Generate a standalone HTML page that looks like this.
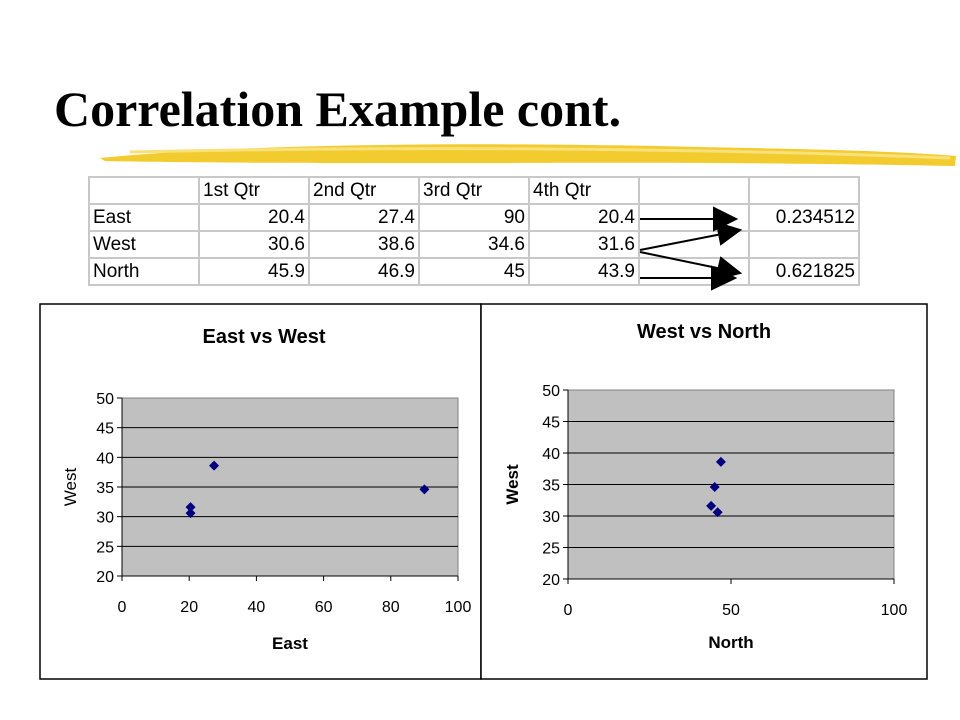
<!DOCTYPE html>
<html><head><meta charset="utf-8"><style>
body{margin:0;background:#fff;width:960px;height:720px;overflow:hidden;position:relative;font-family:"Liberation Sans",sans-serif}
#title{position:absolute;left:54px;top:80px;font-family:"Liberation Serif",serif;font-weight:bold;font-size:50px;color:#000;white-space:nowrap}
table{position:absolute;left:88px;top:176px;border-collapse:collapse;font-size:19px}
td{border:2px solid #c8c8c8;height:25px;padding:0 3px;width:102px;line-height:25px}
td.n{text-align:right}
</style></head><body>
<div id="title">Correlation Example cont.</div>
<svg style="position:absolute;left:0;top:0" width="960" height="720">
<path d="M100,158 C250,143 500,142 700,147 C800,149 900,151 956,156 L955,166 C850,164 700,162 500,163 C300,163 200,163 105,161 Z" fill="#f2cc2e"/>
<path d="M130,152 C400,146 700,148 950,158" stroke="#f8e07a" stroke-width="3" fill="none"/>
</svg>
<table>
<tr><td></td><td>1st Qtr</td><td>2nd Qtr</td><td>3rd Qtr</td><td>4th Qtr</td><td></td><td></td></tr>
<tr><td>East</td><td class="n">20.4</td><td class="n">27.4</td><td class="n">90</td><td class="n">20.4</td><td></td><td class="n">0.234512</td></tr>
<tr><td>West</td><td class="n">30.6</td><td class="n">38.6</td><td class="n">34.6</td><td class="n">31.6</td><td></td><td></td></tr>
<tr><td>North</td><td class="n">45.9</td><td class="n">46.9</td><td class="n">45</td><td class="n">43.9</td><td></td><td class="n">0.621825</td></tr>
</table>
<svg style="position:absolute;left:0;top:0" width="960" height="720">
<defs><marker id="ah" markerWidth="8" markerHeight="8" refX="7" refY="4" orient="auto" markerUnits="userSpaceOnUse" viewBox="0 0 8 8"><path d="M0,0 L8,4 L0,8 Z"/></marker></defs>
<g stroke="#000" stroke-width="2" fill="#000">
<line x1="640" y1="219" x2="718" y2="219"/><path d="M714,208 L736,219 L714,230 Z"/>
<line x1="640" y1="250" x2="722" y2="234"/><path d="M717,223 L740,230 L721,244 Z"/>
<line x1="640" y1="252" x2="722" y2="269"/><path d="M721,258 L740,273 L716,279 Z"/>
<line x1="640" y1="278" x2="714" y2="278"/><path d="M712,267 L735,278 L712,289 Z"/>
</g></svg>
<svg id="charts" style="position:absolute;left:0;top:0" width="960" height="720">
<rect x="40" y="304" width="441" height="375" fill="#fff" stroke="#000" stroke-width="1.5"/>
<rect x="481" y="304" width="446" height="375" fill="#fff" stroke="#000" stroke-width="1.5"/>
</svg>
<script>
const east=[20.4,27.4,90,20.4];
const west=[30.6,38.6,34.6,31.6];
const north=[45.9,46.9,45,43.9];
const yTicks=[20,25,30,35,40,45,50];
const xTicksA=[0,20,40,60,80,100];
const xTicksB=[0,50,100];
const svg=document.getElementById('charts');
const NS='http://www.w3.org/2000/svg';
function mk(t,a){const e=document.createElementNS(NS,t);for(const k in a)e.setAttribute(k,a[k]);svg.appendChild(e);return e;}
function chart(o){
 const sx=v=>o.x0+(v-0)/100*(o.x1-o.x0);
 const sy=v=>o.y1-(v-20)/30*(o.y1-o.y0);
 const bg=mk('rect',{x:o.x0,y:o.y0,width:o.x1-o.x0,height:o.y1-o.y0,fill:'#c0c0c0',stroke:'#808080'});
 
 
 yTicks.forEach(t=>{
  if(t>20&&t<50) mk('line',{x1:o.x0,x2:o.x1,y1:sy(t),y2:sy(t),stroke:'#000'});
  mk('line',{x1:o.x0-5,x2:o.x0,y1:sy(t),y2:sy(t),stroke:'#000'});
  const tx=mk('text',{x:o.x0-8,y:sy(t)+6,'text-anchor':'end','font-size':16,'font-family':'Liberation Sans, sans-serif'});
  tx.textContent=t;
  
  
 });
 mk('line',{x1:o.x0,x2:o.x0,y1:o.y0,y2:o.y1,stroke:'#000'});
 mk('line',{x1:o.x0,x2:o.x1,y1:o.y1,y2:o.y1,stroke:'#000'});
 o.xt.forEach(t=>{
  mk('line',{x1:sx(t),x2:sx(t),y1:o.y1,y2:o.y1+5,stroke:'#000'});
  const tx=mk('text',{x:sx(t),y:o.y1+36,'text-anchor':'middle','font-size':16,'font-family':'Liberation Sans, sans-serif'});
  tx.textContent=t;
  
  
 });
 o.xs.forEach((v,i)=>{
  const cx=sx(v),cy=sy(o.ys[i]);
  const p=mk('path',{d:`M${cx},${cy-5}L${cx+5},${cy}L${cx},${cy+5}L${cx-5},${cy}Z`,fill:'#000080'});
  
  
 });
 const t=mk('text',{x:o.tx,y:o.ty,'text-anchor':'middle','font-size':20,'font-weight':'bold','font-family':'Liberation Sans, sans-serif'});
 t.textContent=o.title;
 
 
 const xl=mk('text',{x:(o.x0+o.x1)/2,y:o.xly,'text-anchor':'middle','font-size':17,'font-weight':'bold','font-family':'Liberation Sans, sans-serif'});
 xl.textContent=o.xlab;
 
 
 const yl=mk('text',{x:0,y:0,'text-anchor':'middle','font-size':17,'font-weight':o.ybold?'bold':'normal','font-family':'Liberation Sans, sans-serif',transform:`translate(${o.ylx},${(o.y0+o.y1)/2}) rotate(-90)`});
 yl.textContent='West';
 
 
}
chart({id:'east-vs-west',x0:122,x1:458,y0:398,y1:576,xs:east,ys:west,xt:xTicksA,title:'East vs West',tx:264,ty:343,xlab:'East',xly:649,ylx:76,ybold:false});
chart({id:'west-vs-north',x0:568,x1:894,y0:390,y1:579,xs:north,ys:west,xt:xTicksB,title:'West vs North',tx:704,ty:338,xlab:'North',xly:648,ylx:518,ybold:true});
</script>
</body></html>
